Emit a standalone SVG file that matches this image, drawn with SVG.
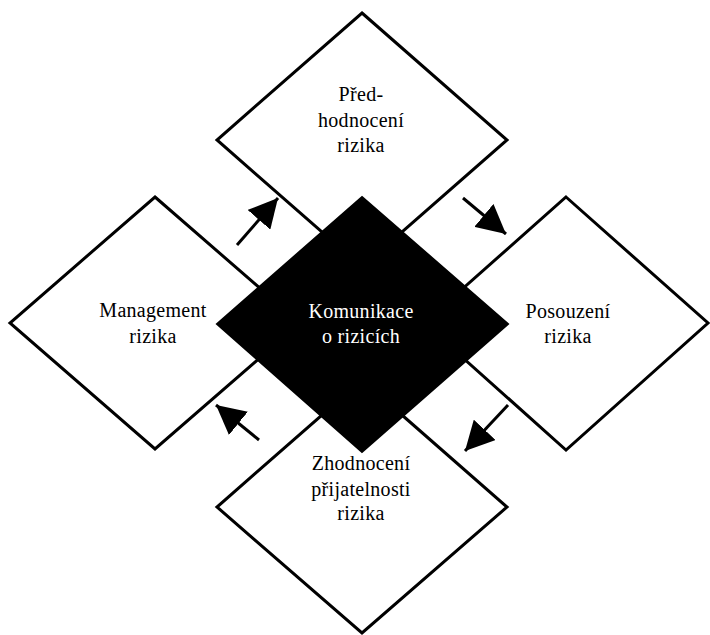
<svg xmlns="http://www.w3.org/2000/svg" width="710" height="635" viewBox="0 0 710 635">
<defs>
<style>
.box{fill:#fff;stroke:#000;stroke-width:3;stroke-linejoin:miter}
.hub{fill:#000;stroke:#000;stroke-width:2}
.t{font-size:20px;text-anchor:middle;fill:#000;letter-spacing:0.3px}
.w{fill:#fff}
.arr{stroke:#000;stroke-width:3;fill:none;marker-end:url(#ah)}
</style>
<marker id="ah" markerUnits="userSpaceOnUse" markerWidth="30" markerHeight="30" refX="27" refY="14" orient="auto" viewBox="0 0 28 28">
<path d="M0,0 L27,14 L0,28 Z" fill="#000"/>
</marker>
</defs>
<rect width="710" height="635" fill="#fff"/>
<g font-family="Liberation Serif, Tinos, DejaVu Serif, Times New Roman, serif">
<g id="node-predhodnoceni">
<polygon class="box" points="362,13 507,140 362,267 217,140"/>
<text class="t" x="361" y="101">Před-</text>
<text class="t" x="361" y="127">hodnocení</text>
<text class="t" x="361" y="152">rizika</text>
</g>
<g id="node-management">
<polygon class="box" points="155,197 300,323 155,449 10,323"/>
<text class="t" x="153" y="317">Management</text>
<text class="t" x="153" y="343">rizika</text>
</g>
<g id="node-posouzeni">
<polygon class="box" points="566,197 708,323 566,450 424,323"/>
<text class="t" x="568" y="318">Posouzení</text>
<text class="t" x="568" y="343">rizika</text>
</g>
<g id="node-zhodnoceni">
<polygon class="box" points="362,380 507,507 362,633 217,507"/>
<text class="t" x="361" y="470">Zhodnocení</text>
<text class="t" x="361" y="496">přijatelnosti</text>
<text class="t" x="361" y="520">rizika</text>
</g>
<g id="node-komunikace">
<polygon class="hub" points="362,197 508,324 362,452 217,324"/>
<text class="t w" x="361" y="318">Komunikace</text>
<text class="t w" x="361" y="343">o rizicích</text>
</g>
</g>
<g id="connectors">
<line class="arr" x1="237" y1="245" x2="278" y2="198"/>
<line class="arr" x1="463" y1="198" x2="506" y2="234"/>
<line class="arr" x1="508" y1="405" x2="465" y2="451"/>
<line class="arr" x1="259" y1="440" x2="216" y2="405"/>
</g>
</svg>
